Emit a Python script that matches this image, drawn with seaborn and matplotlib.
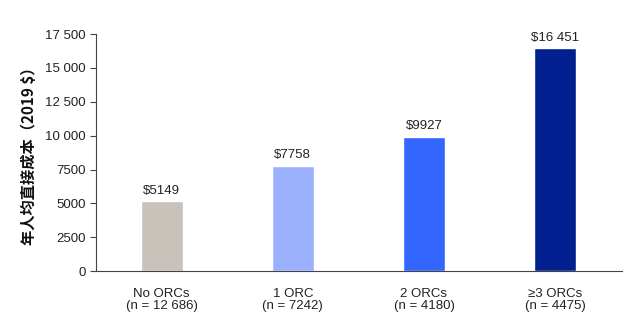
import matplotlib
matplotlib.use("Agg")
import matplotlib.pyplot as plt
import seaborn as sns
import pandas as pd

categories = ["No ORCs\n(n = 12 686)", "1 ORC\n(n = 7242)", "2 ORCs\n(n = 4180)", "≥3 ORCs\n(n = 4475)"]
values = [5149, 7758, 9927, 16451]
value_labels = ["$5149", "$7758", "$9927", "$16 451"]
colors = ["#C9C2BA", "#9BB1FE", "#3366FF", "#00208F"]
yticks = [0, 2500, 5000, 7500, 10000, 12500, 15000, 17500]
ytick_labels = ["0", "2500", "5000", "7500", "10 000", "12 500", "15 000", "17 500"]

sns.set_theme(style="white")
plt.rcParams['font.family'] = ['Liberation Sans', 'DejaVu Sans']

fig = plt.figure(figsize=(6.4, 3.25), dpi=100)
ax = fig.add_axes([0.15, 0.166, 0.822, 0.729])

df = pd.DataFrame({"cat": categories, "val": values})
sns.barplot(data=df, x="cat", y="val", hue="cat", palette=colors, width=0.32,
            legend=False, ax=ax, saturation=1)

for i, (v, lab) in enumerate(zip(values, value_labels)):
    ax.text(i, v + 350, lab, ha="center", va="bottom", fontsize=9.5, color="#222222")

ax.set_xlim(-0.5, 3.51)
ax.set_ylim(0, 17500)
ax.set_yticks(yticks)
ax.set_yticklabels(ytick_labels, fontsize=9.5, color="#222222")
ax.tick_params(axis="x", labelsize=9.5, colors="#222222", length=0, pad=12)
ax.tick_params(axis="y", direction="out", length=4, width=0.8, color="#444444", left=True)
for lab in ax.get_xticklabels():
    lab.set_linespacing(1.05)
ax.set_xlabel("")
ax.set_ylabel("年人均直接成本（2019 $）", fontsize=11, fontweight="bold",
              family=["Noto Sans CJK SC", "DejaVu Sans"], color="#111111", labelpad=6)
sns.despine(ax=ax)
for s in ["left", "bottom"]:
    ax.spines[s].set_color("#444444")
    ax.spines[s].set_linewidth(0.8)

fig.savefig("out.png", dpi=100)
